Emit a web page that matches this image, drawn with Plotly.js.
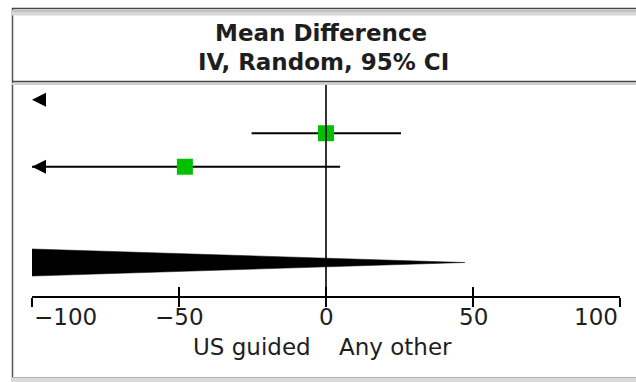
<!DOCTYPE html>
<html>
<head>
<meta charset="utf-8">
<script src="https://cdn.plot.ly/plotly-3.0.1.min.js"></script>
<style>
  html, body { margin: 0; padding: 0; background: #ffffff; }
  #chart { width: 636px; height: 382px; }
</style>
</head>
<body>
<div id="chart"></div>
<script>
// ---- Data (mean difference, IV, random, 95% CI) ----
var studyRows  = [1, 2, 3];
var meanDiff   = [-180, 0, -48];
var ciLower    = [-320, -25.3, -210];
var ciUpper    = [-110, 25.5, 4.8];

var pooledRow   = 5.86;
var pooledMD    = -135;
var pooledLower = -320;
var pooledUpper = 47.2;

var tickValues = [-100, -50, 0, 50, 100];
var tickLabels = ['\u2212100', '\u221250', '0', '50', '100'];

var titleLine1 = 'Mean Difference';
var titleLine2 = 'IV, Random, 95% CI';
var favoursLeft  = 'US guided';
var favoursRight = 'Any other';

// ---- Layout helpers ----
var W = 636, H = 382;
var M = {l: 32, r: 16, t: 83, b: 86};
var plotW = W - M.l - M.r, plotH = H - M.t - M.b;
function px(x) { return (x - M.l) / plotW; }
function py(y) { return (H - M.b - y) / plotH; }

var xMin = -100, xMax = 100;
var font = 'DejaVu Sans';
var textColor = '#1e1e1e';

// CI lines
var lineX = [], lineY = [];
for (var i = 0; i < studyRows.length; i++) {
  lineX.push(ciLower[i], ciUpper[i], null);
  lineY.push(studyRows[i], studyRows[i], null);
}

// Arrows for CIs that run off the scale
var arrowLX = [], arrowLY = [], arrowRX = [], arrowRY = [];
for (var j = 0; j < studyRows.length; j++) {
  if (ciLower[j] < xMin) { arrowLX.push(xMin); arrowLY.push(studyRows[j]); }
  if (ciUpper[j] > xMax) { arrowRX.push(xMax); arrowRY.push(studyRows[j]); }
}

var diamondHalf = 0.5;

var traces = [
  {
    x: lineX, y: lineY, type: 'scatter', mode: 'lines',
    line: {color: '#000000', width: 2}, hoverinfo: 'skip', showlegend: false
  },
  {
    x: meanDiff, y: studyRows, type: 'scatter', mode: 'markers',
    marker: {symbol: 'square', size: 16, color: '#00c000', line: {width: 0}},
    hoverinfo: 'skip', showlegend: false
  },
  {
    x: arrowLX, y: arrowLY, type: 'scatter', mode: 'markers', cliponaxis: false,
    marker: {symbol: 'arrow-left', size: 14, color: '#000000', line: {width: 0}},
    hoverinfo: 'skip', showlegend: false
  },
  {
    x: arrowRX, y: arrowRY, type: 'scatter', mode: 'markers', cliponaxis: false,
    marker: {symbol: 'arrow-right', size: 14, color: '#000000', line: {width: 0}},
    hoverinfo: 'skip', showlegend: false
  },
  {
    x: [pooledLower, pooledMD, pooledUpper, pooledMD, pooledLower],
    y: [pooledRow, pooledRow - diamondHalf, pooledRow, pooledRow + diamondHalf, pooledRow],
    type: 'scatter', mode: 'lines', fill: 'toself', fillcolor: '#000000',
    line: {color: '#000000', width: 0.5}, xaxis: 'x2',
    hoverinfo: 'skip', showlegend: false
  }
];

var annotations = [];
for (var k = 0; k < tickValues.length; k++) {
  var anchor = 'center';
  if (k === 0) anchor = 'left';
  if (k === tickValues.length - 1) anchor = 'right';
  annotations.push({
    x: tickValues[k], xref: 'x', y: py(316.5), yref: 'paper',
    text: tickLabels[k], showarrow: false, xanchor: anchor, yanchor: 'middle',
    font: {family: font, size: 23, color: textColor}
  });
}
annotations.push({
  x: 0, xref: 'x', y: py(346.5), yref: 'paper', xshift: -13,
  text: favoursLeft, showarrow: false, xanchor: 'right', yanchor: 'middle',
  font: {family: font, size: 23, color: textColor}
});
annotations.push({
  x: 0, xref: 'x', y: py(346.5), yref: 'paper', xshift: 11,
  text: favoursRight, showarrow: false, xanchor: 'left', yanchor: 'middle',
  font: {family: font, size: 23, color: textColor}
});
annotations.push({
  x: px(321), xref: 'paper', y: py(33), yref: 'paper',
  text: titleLine1, showarrow: false, xanchor: 'center', yanchor: 'middle',
  font: {family: font, size: 23, color: textColor, weight: 'bold'}
});
annotations.push({
  x: px(323), xref: 'paper', y: py(62), yref: 'paper',
  text: titleLine2, showarrow: false, xanchor: 'center', yanchor: 'middle',
  font: {family: font, size: 23, color: textColor, weight: 'bold'}
});

var shapes = [
  // zero line
  {type: 'line', xref: 'x', yref: 'paper', x0: 0, x1: 0, y0: 0, y1: 1,
   line: {color: '#000000', width: 1.6}},
  // left frame border
  {type: 'line', xref: 'paper', yref: 'paper', x0: px(12.5), x1: px(12.5), y0: py(8), y1: py(382),
   line: {color: '#555555', width: 1.5}},
  // top frame
  {type: 'rect', xref: 'paper', yref: 'paper', x0: px(12), x1: px(636), y0: py(10), y1: py(15.5),
   fillcolor: '#d6d6d6', line: {width: 0}},
  {type: 'line', xref: 'paper', yref: 'paper', x0: px(12), x1: px(636), y0: py(11), y1: py(11),
   line: {color: '#aaaaaa', width: 1}},
  {type: 'line', xref: 'paper', yref: 'paper', x0: px(12), x1: px(636), y0: py(8.5), y1: py(8.5),
   line: {color: '#444444', width: 1.5}},
  // header separator
  {type: 'rect', xref: 'paper', yref: 'paper', x0: px(12), x1: px(636), y0: py(82.5), y1: py(85),
   fillcolor: '#cfcfcf', line: {width: 0}},
  {type: 'line', xref: 'paper', yref: 'paper', x0: px(12), x1: px(636), y0: py(81.5), y1: py(81.5),
   line: {color: '#444444', width: 1.5}},
  // bottom frame
  {type: 'rect', xref: 'paper', yref: 'paper', x0: px(12), x1: px(636), y0: py(377.5), y1: py(382),
   fillcolor: '#dadada', line: {width: 0}},
  {type: 'line', xref: 'paper', yref: 'paper', x0: px(12), x1: px(636), y0: py(377.5), y1: py(377.5),
   line: {color: '#b5b5b5', width: 1}}
];

var layout = {
  width: W, height: H,
  margin: M,
  paper_bgcolor: '#ffffff', plot_bgcolor: '#ffffff',
  showlegend: false,
  hovermode: false,
  xaxis: {
    range: [xMin, xMax], showgrid: false, zeroline: false,
    showline: true, linecolor: '#000000', linewidth: 1.6,
    ticks: 'outside', ticklen: 9, tickwidth: 1.6, tickcolor: '#000000',
    tickmode: 'array', tickvals: tickValues, showticklabels: false, fixedrange: true
  },
  xaxis2: {
    range: [xMin, xMax], overlaying: 'x', anchor: 'y', side: 'bottom',
    showgrid: false, zeroline: false, showline: false,
    ticks: 'inside', ticklen: 9, tickwidth: 1.6, tickcolor: '#000000',
    tickmode: 'array', tickvals: tickValues, showticklabels: false, fixedrange: true
  },
  yaxis: {
    range: [6.86, 0.5], showgrid: false, zeroline: false, showline: false,
    showticklabels: false, ticks: '', fixedrange: true
  },
  shapes: shapes,
  annotations: annotations
};

Plotly.newPlot('chart', traces, layout, {displayModeBar: false, staticPlot: true});
</script>
</body>
</html>
